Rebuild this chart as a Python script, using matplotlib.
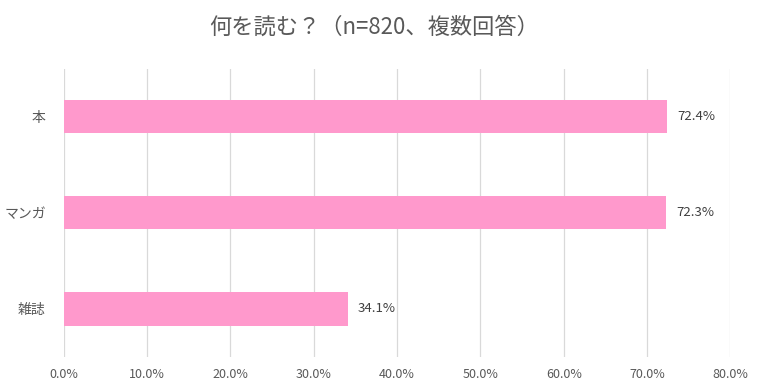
import matplotlib.pyplot as plt

plt.rcParams['font.family'] = ['Noto Sans CJK JP', 'DejaVu Sans']

# データ
categories = ['本', 'マンガ', '雑誌']
values = [72.4, 72.3, 34.1]
xticks = [0, 10, 20, 30, 40, 50, 60, 70, 80]
title = '何を読む？（n=820、複数回答）'

fig = plt.figure(figsize=(7.6, 3.91), dpi=100)
ax = fig.add_axes([0.084, 0.087, 0.877, 0.737])

bars = ax.barh(categories, values, height=0.345, color='#FF99CC')
ax.set_ylim(2.5, -0.5)
ax.set_xlim(0, 80)

# 数値ラベル
for b, v in zip(bars, values):
    ax.text(v + 1.2, b.get_y() + b.get_height() / 2, f'{v:.1f}%',
            va='center', ha='left', fontsize=9.5, color='#404040')

ax.set_xticks(xticks)
ax.set_xticklabels([f'{t:.1f}%' for t in xticks])
ax.tick_params(axis='x', length=0, pad=8, labelsize=9, labelcolor='#595959')
ax.tick_params(axis='y', length=0, pad=13, labelsize=10, labelcolor='#595959')

ax.grid(axis='x', color='#D9D9D9', linewidth=0.9)
ax.set_axisbelow(True)
for s in ax.spines.values():
    s.set_visible(False)

fig.text(0.492, 0.93, title, ha='center', va='center', fontsize=16, color='#595959')

plt.savefig('out.png', dpi=100)
